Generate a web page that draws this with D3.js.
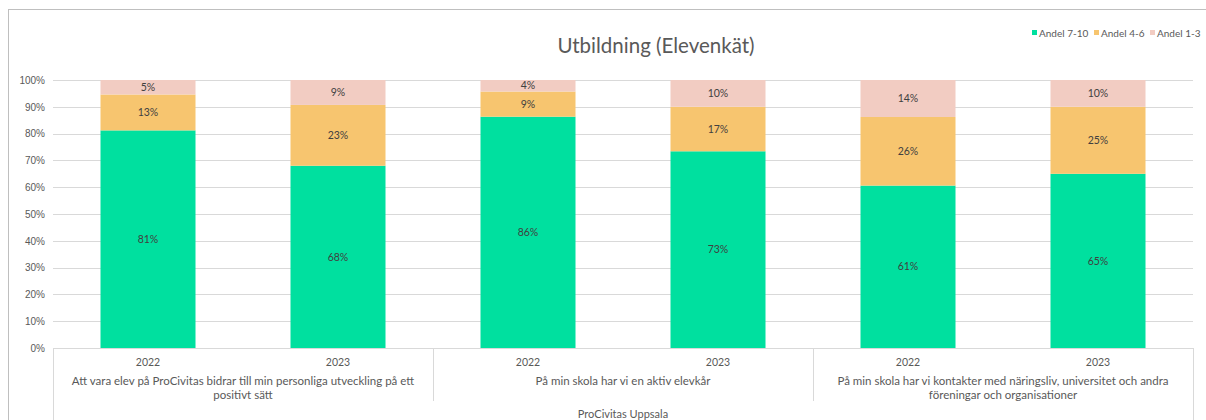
<!DOCTYPE html>
<html>
<head>
<meta charset="utf-8">
<script src="https://cdn.jsdelivr.net/npm/d3@7"></script>
<style>
  body { margin: 0; background: #fff; }
  svg { display: block; font-family: "Century Gothic", "URW Gothic", Lato, sans-serif; }
</style>
</head>
<body>
<div id="chart"></div>
<script>
const years = ["2022", "2023", "2022", "2023", "2022", "2023"];
const questions = [
    ["Att vara elev på ProCivitas bidrar till min personliga utveckling på ett", "positivt sätt"],
    ["På min skola har vi en aktiv elevkår"],
    ["På min skola har vi kontakter med näringsliv, universitet och andra", "föreningar och organisationer"]
];
const school = "ProCivitas Uppsala";
const andel710 = [81.2, 68.0, 86.3, 73.4, 60.6, 65.0];
const andel46 = [13.4, 22.7, 9.4, 16.6, 25.6, 25.0];
const andel13 = [5.4, 9.3, 4.3, 10.0, 13.8, 10.0];
const seriesNames = ["Andel 7-10", "Andel 4-6", "Andel 1-3"];
const yTicks = [0, 10, 20, 30, 40, 50, 60, 70, 80, 90, 100];

const colours = ["#00E09F", "#F7C56F", "#F2CCC2"];
const W = 1206, H = 420;
const plot = { left: 53, right: 1193, top: 80, bottom: 348 };

const svg = d3.select("#chart").append("svg")
    .attr("width", W)
    .attr("height", H);

// chart frame
svg.append("rect")
    .attr("x", 8.5).attr("y", 9.5)
    .attr("width", 1220).attr("height", 430)
    .attr("fill", "none")
    .attr("stroke", "#BFBFBF");

svg.append("text")
    .attr("x", 656)
    .attr("y", 53)
    .attr("text-anchor", "middle")
    .style("font-size", "20.5px")
    .style("fill", "#595959")
    .text("Utbildning (Elevenkät)");

const ids = years.map((d, i) => i);
const x = d3.scaleBand()
    .domain(ids)
    .range([plot.left, plot.right])
    .paddingInner(0.5)
    .paddingOuter(0.25);

const y = d3.scaleLinear()
    .domain([0, 100])
    .range([plot.bottom, plot.top]);

// gridlines
svg.append("g")
    .selectAll("line")
    .data(yTicks.filter(d => d > 0))
    .enter().append("line")
    .attr("x1", plot.left).attr("x2", plot.right)
    .attr("y1", d => Math.round(y(d)) + 0.5)
    .attr("y2", d => Math.round(y(d)) + 0.5)
    .attr("stroke", "#D9D9D9");

// y axis labels
const yAxis = svg.append("g")
    .attr("transform", `translate(${plot.left},0)`)
    .call(d3.axisLeft(y).tickValues(yTicks).tickSize(0).tickPadding(8).tickFormat(d => d + "%"));
yAxis.select(".domain").remove();
yAxis.selectAll("text")
    .style("font-family", "inherit")
    .style("font-size", "10px")
    .style("fill", "#595959");

// stacked bars
const rows = ids.map(i => ({ i, a: andel710[i], b: andel46[i], c: andel13[i] }));
const stack = d3.stack().keys(["a", "b", "c"])(rows);

const layers = svg.selectAll(".layer")
    .data(stack)
    .enter().append("g")
    .attr("class", "layer")
    .attr("fill", (d, k) => colours[k]);

layers.selectAll("rect")
    .data(d => d)
    .enter().append("rect")
    .attr("x", d => x(d.data.i))
    .attr("width", x.bandwidth())
    .attr("y", d => y(d[1]))
    .attr("height", d => y(d[0]) - y(d[1]));

layers.selectAll("text")
    .data(d => d)
    .enter().append("text")
    .attr("x", d => x(d.data.i) + x.bandwidth() / 2)
    .attr("y", d => (y(d[0]) + y(d[1])) / 2)
    .attr("dy", "0.35em")
    .attr("text-anchor", "middle")
    .style("font-size", "10.5px")
    .style("fill", "#404040")
    .text(d => Math.round(d[1] - d[0]) + "%");

// multi-level category axis
const axisG = svg.append("g").attr("stroke", "#D9D9D9");
axisG.append("line")
    .attr("x1", plot.left).attr("x2", plot.right)
    .attr("y1", plot.bottom + 0.5).attr("y2", plot.bottom + 0.5);

const groupEdges = [0, 2, 4, 6].map(k => k === 6 ? plot.right : x(k) - x.step() * x.paddingOuter());
groupEdges.forEach((gx, k) => {
    const outer = k === 0 || k === groupEdges.length - 1;
    axisG.append("line")
        .attr("x1", Math.round(gx) + 0.5).attr("x2", Math.round(gx) + 0.5)
        .attr("y1", plot.bottom)
        .attr("y2", outer ? H : 401);
});

svg.append("g").selectAll("text")
    .data(ids)
    .enter().append("text")
    .attr("x", d => x(d) + x.bandwidth() / 2)
    .attr("y", 366)
    .attr("text-anchor", "middle")
    .style("font-size", "10.5px")
    .style("fill", "#595959")
    .text(d => years[d]);

const qG = svg.append("g").selectAll("text")
    .data(questions)
    .enter().append("text")
    .attr("x", (d, k) => (groupEdges[k] + groupEdges[k + 1]) / 2)
    .attr("y", 385)
    .attr("text-anchor", "middle")
    .style("font-size", "11.5px")
    .style("fill", "#595959");
qG.selectAll("tspan")
    .data(d => d)
    .enter().append("tspan")
    .attr("x", function() { return d3.select(this.parentNode).attr("x"); })
    .attr("dy", (d, j) => j === 0 ? 0 : 14)
    .text(d => d);

svg.append("text")
    .attr("x", (plot.left + plot.right) / 2)
    .attr("y", 418)
    .attr("text-anchor", "middle")
    .style("font-size", "11px")
    .style("fill", "#595959")
    .text(school);

// legend
const legendX = [1032, 1094, 1150];
const legend = svg.selectAll(".legend")
    .data(seriesNames)
    .enter().append("g")
    .attr("class", "legend")
    .attr("transform", (d, i) => `translate(${legendX[i]},30)`);

legend.append("rect")
    .attr("width", 5).attr("height", 5)
    .attr("y", 0)
    .attr("fill", (d, i) => colours[i]);

legend.append("text")
    .attr("x", 7)
    .attr("y", 3)
    .attr("dy", "0.35em")
    .style("font-size", "10px")
    .style("fill", "#595959")
    .text(d => d);
</script>
</body>
</html>
